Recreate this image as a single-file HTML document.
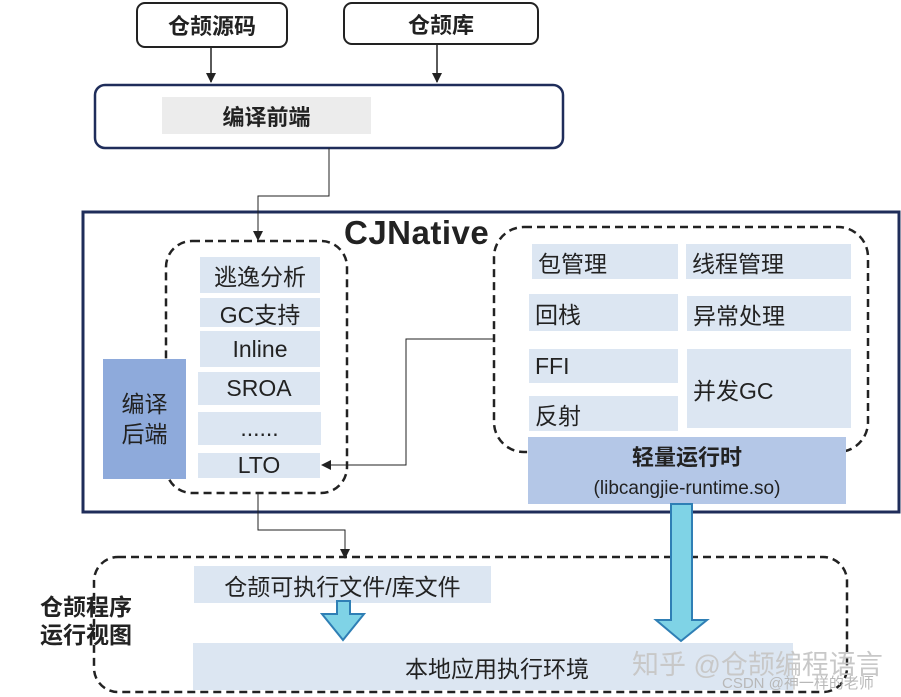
<!DOCTYPE html>
<html><head><meta charset="utf-8"><style>
body{margin:0;width:901px;height:697px;background:#fff;position:relative;overflow:hidden;font-family:"Liberation Sans","Noto Sans CJK SC",sans-serif;color:#222}
.a{position:absolute;box-sizing:border-box}
.it{position:absolute;background:#dce6f2;font-size:23px;display:flex;align-items:center}
.c{justify-content:center}
.l{padding-left:6px}
</style></head><body>
<svg class="a" style="left:0;top:0" width="901" height="697">
<defs><marker id="m" markerWidth="10" markerHeight="10" refX="9" refY="5" orient="auto" markerUnits="userSpaceOnUse"><path d="M0,0 L10,5 L0,10z" fill="#222"/></marker></defs>
<rect x="137" y="3" width="150" height="44" rx="8" fill="#fff" stroke="#222" stroke-width="2"/>
<rect x="344" y="3" width="194" height="41" rx="8" fill="#fff" stroke="#222" stroke-width="2"/>
<line x1="211" y1="47" x2="211" y2="82" stroke="#222" stroke-width="1.5" marker-end="url(#m)"/>
<line x1="437" y1="44" x2="437" y2="82" stroke="#222" stroke-width="1.5" marker-end="url(#m)"/>
<rect x="95" y="85" width="468" height="63" rx="10" fill="#fff" stroke="#1f2d5a" stroke-width="2.5"/>
<rect x="162" y="97" width="209" height="37" fill="#ececec"/>
<rect x="83" y="212" width="816" height="300" fill="#fff" stroke="#1f2d5a" stroke-width="3"/>
<polyline points="329,148 329,196 258,196 258,240" fill="none" stroke="#222" stroke-width="1" marker-end="url(#m)"/>
<rect x="166" y="241" width="181" height="252" rx="26" fill="none" stroke="#222" stroke-width="2.5" stroke-dasharray="8,5"/>
<rect x="494" y="227" width="374" height="225" rx="30" fill="none" stroke="#222" stroke-width="2.5" stroke-dasharray="8,5"/>
<polyline points="493,339 406,339 406,465 322,465" fill="none" stroke="#222" stroke-width="1" marker-end="url(#m)"/>
<polyline points="258,493 258,530 345,530 345,558" fill="none" stroke="#222" stroke-width="1" marker-end="url(#m)"/>
<rect x="94" y="557" width="753" height="135" rx="24" fill="none" stroke="#222" stroke-width="2.5" stroke-dasharray="8,5"/>
</svg>
<div class="a" style="left:137px;top:3px;width:150px;height:44px;display:flex;align-items:center;justify-content:center;font-weight:bold;font-size:22px">仓颉源码</div>
<div class="a" style="left:344px;top:3px;width:194px;height:41px;display:flex;align-items:center;justify-content:center;font-weight:bold;font-size:22px">仓颉库</div>
<div class="a" style="left:162px;top:97px;width:209px;height:37px;display:flex;align-items:center;justify-content:center;font-weight:bold;font-size:22px">编译前端</div>
<div class="a" style="left:344px;top:214px;font-weight:bold;font-size:33px;letter-spacing:0.5px">CJNative</div>
<div class="it c" style="left:200px;top:257px;width:120px;height:36px">逃逸分析</div>
<div class="it c" style="left:200px;top:298px;width:120px;height:29px">GC支持</div>
<div class="it c" style="left:200px;top:331px;width:120px;height:36px">Inline</div>
<div class="it c" style="left:198px;top:372px;width:122px;height:33px">SROA</div>
<div class="it c" style="left:198px;top:412px;width:123px;height:33px">......</div>
<div class="it c" style="left:198px;top:453px;width:122px;height:25px">LTO</div>
<div class="a" style="left:103px;top:359px;width:83px;height:120px;background:#8eaadb;font-size:23px;display:flex;align-items:center;justify-content:center;text-align:center;line-height:30px">编译<br>后端</div>
<div class="it l" style="left:532px;top:244px;width:140px;height:35px">包管理</div>
<div class="it l" style="left:686px;top:244px;width:159px;height:35px">线程管理</div>
<div class="it l" style="left:529px;top:294px;width:143px;height:37px">回栈</div>
<div class="it l" style="left:687px;top:296px;width:158px;height:35px">异常处理</div>
<div class="it l" style="left:529px;top:349px;width:143px;height:34px">FFI</div>
<div class="it l" style="left:687px;top:349px;width:158px;height:79px">并发GC</div>
<div class="it l" style="left:529px;top:396px;width:143px;height:35px">反射</div>
<div class="a" style="left:528px;top:437px;width:318px;height:67px;background:#b4c7e7;text-align:center;line-height:28px;padding-top:7px"><b style="font-size:22px">轻量运行时</b><br><span style="font-size:19px">(libcangjie-runtime.so)</span></div>
<svg class="a" style="left:0;top:0" width="901" height="697">
<path d="M671,504 H692 V620 H707 L681,641 L656,620 H671 Z" fill="#7fd3e6" stroke="#2f7fb5" stroke-width="2"/>
</svg>
<div class="it c" style="left:194px;top:566px;width:297px;height:37px">仓颉可执行文件/库文件</div>
<div class="it" style="left:193px;top:643px;width:388px;height:47px;padding-left:212px">本地应用执行环境</div>
<svg class="a" style="left:0;top:0" width="901" height="697">
<path d="M337,601 H350 V614 H364 L343,640 L322,614 H337 Z" fill="#7fd3e6" stroke="#2f7fb5" stroke-width="2"/>
</svg>
<div class="a" style="left:40px;top:593px;font-weight:bold;font-size:23px;line-height:28px">仓颉程序<br>运行视图</div>
<div class="a" style="left:632px;top:643px;font-size:27px;color:#c8c8c8">知乎 @仓颉编程语言</div>
<div class="a" style="left:722px;top:672px;font-size:15px;color:#b8b8b8">CSDN @神一样的老师</div>
</body></html>
